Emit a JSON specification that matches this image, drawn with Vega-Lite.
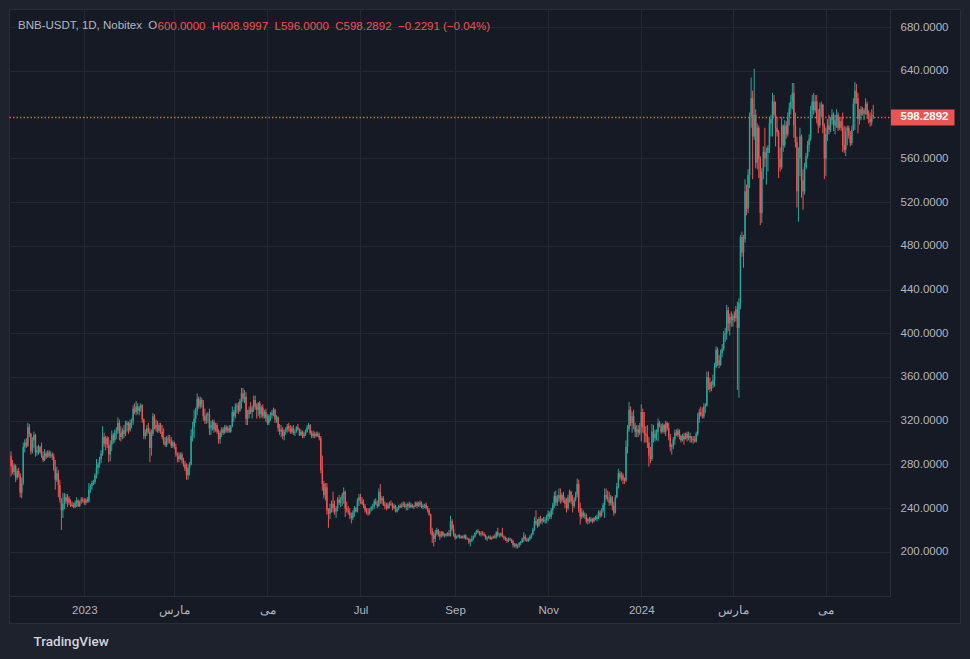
{
"$schema":"https://vega.github.io/schema/vega-lite/v6.json",
"width":951,"height":614,"autosize":"none",
"padding":{"left":9,"top":9,"right":10,"bottom":36},
"background":"#1e222d",
"view":{"fill":"#161a25","stroke":"#2a2e39","strokeWidth":1},
"config":{"font":"Liberation Sans"},
"title":{"text":"BNB-USDT, 1D, Nobitex\u00a0 O","anchor":"start","frame":"group","orient":"top","offset":-28,"baseline":"middle","dx":9,"color":"#b2b5be","fontSize":11.5,"fontWeight":"normal","font":"Liberation Sans"},
"data":{"values":[
{"d":"2022-11-14","o":288,"h":292,"l":269,"c":278},{"d":"2022-11-15","o":278,"h":284,"l":271,"c":273},{"d":"2022-11-16","o":273,"h":281,"l":270,"c":279},{"d":"2022-11-17","o":279,"h":280,"l":264,"c":268},{"d":"2022-11-18","o":268,"h":276,"l":266,"c":274},{"d":"2022-11-19","o":274,"h":277,"l":268,"c":270},{"d":"2022-11-20","o":270,"h":272,"l":250,"c":254},{"d":"2022-11-21","o":254,"h":268,"l":249,"c":263},{"d":"2022-11-22","o":263,"h":300,"l":261,"c":296},{"d":"2022-11-23","o":296,"h":303,"l":291,"c":300},{"d":"2022-11-24","o":300,"h":304,"l":295,"c":297},{"d":"2022-11-25","o":297,"h":318,"l":296,"c":314},{"d":"2022-11-26","o":314,"h":317,"l":305,"c":308},{"d":"2022-11-27","o":308,"h":309,"l":289,"c":292},{"d":"2022-11-28","o":292,"h":305,"l":290,"c":302},{"d":"2022-11-29","o":302,"h":310,"l":295,"c":307},{"d":"2022-11-30","o":307,"h":308,"l":287,"c":291},
{"d":"2022-12-01","o":291,"h":297,"l":288,"c":293},{"d":"2022-12-02","o":293,"h":298,"l":289,"c":296},{"d":"2022-12-03","o":296,"h":297,"l":290,"c":291},{"d":"2022-12-04","o":291,"h":300,"l":286,"c":288},{"d":"2022-12-05","o":288,"h":292,"l":282,"c":284},{"d":"2022-12-06","o":284,"h":294,"l":283,"c":290},{"d":"2022-12-07","o":290,"h":292,"l":285,"c":287},{"d":"2022-12-08","o":287,"h":293,"l":286,"c":291},{"d":"2022-12-09","o":291,"h":293,"l":286,"c":288},{"d":"2022-12-10","o":288,"h":292,"l":286,"c":289},{"d":"2022-12-11","o":289,"h":291,"l":284,"c":287},{"d":"2022-12-12","o":287,"h":290,"l":274,"c":276},{"d":"2022-12-13","o":276,"h":284,"l":257,"c":266},{"d":"2022-12-14","o":266,"h":278,"l":264,"c":272},{"d":"2022-12-15","o":272,"h":275,"l":250,"c":261},{"d":"2022-12-16","o":261,"h":266,"l":245,"c":248},{"d":"2022-12-17","o":248,"h":249,"l":220,"c":238},{"d":"2022-12-18","o":238,"h":254,"l":231,"c":244},{"d":"2022-12-19","o":244,"h":254,"l":239,"c":250},{"d":"2022-12-20","o":250,"h":253,"l":244,"c":246},{"d":"2022-12-21","o":246,"h":253,"l":241,"c":249},{"d":"2022-12-22","o":249,"h":251,"l":243,"c":245},{"d":"2022-12-23","o":245,"h":248,"l":241,"c":243},{"d":"2022-12-24","o":243,"h":246,"l":241,"c":242},{"d":"2022-12-25","o":242,"h":245,"l":240,"c":241},{"d":"2022-12-26","o":241,"h":247,"l":240,"c":245},{"d":"2022-12-27","o":245,"h":250,"l":241,"c":247},{"d":"2022-12-28","o":247,"h":248,"l":241,"c":242},{"d":"2022-12-29","o":242,"h":247,"l":241,"c":246},{"d":"2022-12-30","o":246,"h":250,"l":244,"c":248},{"d":"2022-12-31","o":248,"h":250,"l":245,"c":247},
{"d":"2023-01-01","o":247,"h":249,"l":243,"c":245},{"d":"2023-01-02","o":245,"h":249,"l":243,"c":248},{"d":"2023-01-03","o":248,"h":250,"l":245,"c":246},{"d":"2023-01-04","o":246,"h":263,"l":245,"c":257},{"d":"2023-01-05","o":257,"h":262,"l":254,"c":260},{"d":"2023-01-06","o":260,"h":265,"l":257,"c":263},{"d":"2023-01-07","o":263,"h":266,"l":261,"c":264},{"d":"2023-01-08","o":264,"h":272,"l":262,"c":270},{"d":"2023-01-09","o":270,"h":285,"l":267,"c":277},{"d":"2023-01-10","o":277,"h":282,"l":271,"c":280},{"d":"2023-01-11","o":280,"h":287,"l":277,"c":285},{"d":"2023-01-12","o":285,"h":293,"l":281,"c":290},{"d":"2023-01-13","o":290,"h":315,"l":288,"c":305},{"d":"2023-01-14","o":305,"h":309,"l":296,"c":299},{"d":"2023-01-15","o":299,"h":306,"l":293,"c":304},{"d":"2023-01-16","o":304,"h":306,"l":295,"c":298},{"d":"2023-01-17","o":298,"h":305,"l":282,"c":289},{"d":"2023-01-18","o":289,"h":302,"l":283,"c":298},{"d":"2023-01-19","o":298,"h":311,"l":292,"c":307},{"d":"2023-01-20","o":307,"h":309,"l":299,"c":302},{"d":"2023-01-21","o":302,"h":312,"l":300,"c":309},{"d":"2023-01-22","o":309,"h":314,"l":303,"c":311},{"d":"2023-01-23","o":311,"h":323,"l":308,"c":318},{"d":"2023-01-24","o":318,"h":321,"l":302,"c":309},{"d":"2023-01-25","o":309,"h":315,"l":301,"c":305},{"d":"2023-01-26","o":305,"h":313,"l":303,"c":311},{"d":"2023-01-27","o":311,"h":316,"l":304,"c":308},{"d":"2023-01-28","o":308,"h":320,"l":306,"c":316},{"d":"2023-01-29","o":316,"h":320,"l":310,"c":318},{"d":"2023-01-30","o":318,"h":319,"l":308,"c":311},{"d":"2023-01-31","o":311,"h":321,"l":310,"c":318},
{"d":"2023-02-01","o":318,"h":322,"l":313,"c":320},{"d":"2023-02-02","o":320,"h":334,"l":316,"c":331},{"d":"2023-02-03","o":331,"h":336,"l":326,"c":328},{"d":"2023-02-04","o":328,"h":338,"l":325,"c":333},{"d":"2023-02-05","o":333,"h":336,"l":326,"c":329},{"d":"2023-02-06","o":329,"h":334,"l":325,"c":332},{"d":"2023-02-07","o":332,"h":336,"l":328,"c":334},{"d":"2023-02-08","o":334,"h":335,"l":318,"c":321},{"d":"2023-02-09","o":321,"h":322,"l":303,"c":306},{"d":"2023-02-10","o":306,"h":312,"l":303,"c":309},{"d":"2023-02-11","o":309,"h":316,"l":306,"c":313},{"d":"2023-02-12","o":313,"h":318,"l":308,"c":310},{"d":"2023-02-13","o":310,"h":313,"l":282,"c":295},{"d":"2023-02-14","o":295,"h":312,"l":288,"c":308},{"d":"2023-02-15","o":308,"h":327,"l":306,"c":324},{"d":"2023-02-16","o":324,"h":326,"l":312,"c":316},{"d":"2023-02-17","o":316,"h":321,"l":310,"c":313},{"d":"2023-02-18","o":313,"h":320,"l":309,"c":311},{"d":"2023-02-19","o":311,"h":318,"l":309,"c":316},{"d":"2023-02-20","o":316,"h":318,"l":308,"c":310},{"d":"2023-02-21","o":310,"h":316,"l":303,"c":305},{"d":"2023-02-22","o":305,"h":313,"l":298,"c":301},{"d":"2023-02-23","o":301,"h":305,"l":296,"c":298},{"d":"2023-02-24","o":298,"h":306,"l":296,"c":304},{"d":"2023-02-25","o":304,"h":307,"l":299,"c":303},{"d":"2023-02-26","o":303,"h":307,"l":299,"c":301},{"d":"2023-02-27","o":301,"h":305,"l":295,"c":297},{"d":"2023-02-28","o":297,"h":302,"l":295,"c":300},
{"d":"2023-03-01","o":300,"h":301,"l":294,"c":296},{"d":"2023-03-02","o":296,"h":299,"l":287,"c":290},{"d":"2023-03-03","o":290,"h":291,"l":282,"c":288},{"d":"2023-03-04","o":288,"h":291,"l":282,"c":285},{"d":"2023-03-05","o":285,"h":291,"l":284,"c":289},{"d":"2023-03-06","o":289,"h":291,"l":281,"c":284},{"d":"2023-03-07","o":284,"h":286,"l":278,"c":280},{"d":"2023-03-08","o":280,"h":283,"l":274,"c":276},{"d":"2023-03-09","o":276,"h":281,"l":266,"c":270},{"d":"2023-03-10","o":270,"h":280,"l":266,"c":277},{"d":"2023-03-11","o":277,"h":282,"l":270,"c":280},{"d":"2023-03-12","o":280,"h":312,"l":279,"c":306},{"d":"2023-03-13","o":306,"h":319,"l":301,"c":314},{"d":"2023-03-14","o":314,"h":330,"l":304,"c":322},{"d":"2023-03-15","o":322,"h":332,"l":318,"c":329},{"d":"2023-03-16","o":329,"h":345,"l":325,"c":340},{"d":"2023-03-17","o":340,"h":342,"l":331,"c":333},{"d":"2023-03-18","o":333,"h":342,"l":331,"c":339},{"d":"2023-03-19","o":339,"h":341,"l":332,"c":335},{"d":"2023-03-20","o":335,"h":339,"l":320,"c":324},{"d":"2023-03-21","o":324,"h":331,"l":317,"c":320},{"d":"2023-03-22","o":320,"h":327,"l":317,"c":325},{"d":"2023-03-23","o":325,"h":328,"l":318,"c":326},{"d":"2023-03-24","o":326,"h":331,"l":307,"c":313},{"d":"2023-03-25","o":313,"h":320,"l":307,"c":316},{"d":"2023-03-26","o":316,"h":321,"l":311,"c":319},{"d":"2023-03-27","o":319,"h":321,"l":309,"c":312},{"d":"2023-03-28","o":312,"h":318,"l":310,"c":316},{"d":"2023-03-29","o":316,"h":318,"l":308,"c":310},{"d":"2023-03-30","o":310,"h":312,"l":299,"c":303},{"d":"2023-03-31","o":303,"h":311,"l":299,"c":309},
{"d":"2023-04-01","o":309,"h":314,"l":305,"c":312},{"d":"2023-04-02","o":312,"h":314,"l":307,"c":309},{"d":"2023-04-03","o":309,"h":316,"l":308,"c":314},{"d":"2023-04-04","o":314,"h":316,"l":309,"c":311},{"d":"2023-04-05","o":311,"h":315,"l":309,"c":313},{"d":"2023-04-06","o":313,"h":316,"l":309,"c":310},{"d":"2023-04-07","o":310,"h":316,"l":309,"c":315},{"d":"2023-04-08","o":315,"h":333,"l":314,"c":328},{"d":"2023-04-09","o":328,"h":330,"l":319,"c":324},{"d":"2023-04-10","o":324,"h":336,"l":322,"c":333},{"d":"2023-04-11","o":333,"h":336,"l":327,"c":334},{"d":"2023-04-12","o":334,"h":337,"l":326,"c":329},{"d":"2023-04-13","o":329,"h":340,"l":328,"c":338},{"d":"2023-04-14","o":338,"h":350,"l":331,"c":345},{"d":"2023-04-15","o":345,"h":350,"l":337,"c":340},{"d":"2023-04-16","o":340,"h":348,"l":336,"c":342},{"d":"2023-04-17","o":342,"h":346,"l":316,"c":322},{"d":"2023-04-18","o":322,"h":330,"l":316,"c":326},{"d":"2023-04-19","o":326,"h":333,"l":322,"c":330},{"d":"2023-04-20","o":330,"h":337,"l":326,"c":328},{"d":"2023-04-21","o":328,"h":334,"l":322,"c":332},{"d":"2023-04-22","o":332,"h":343,"l":328,"c":339},{"d":"2023-04-23","o":339,"h":343,"l":330,"c":333},{"d":"2023-04-24","o":333,"h":336,"l":322,"c":330},{"d":"2023-04-25","o":330,"h":337,"l":324,"c":336},{"d":"2023-04-26","o":336,"h":338,"l":322,"c":326},{"d":"2023-04-27","o":326,"h":334,"l":323,"c":332},{"d":"2023-04-28","o":332,"h":335,"l":322,"c":324},{"d":"2023-04-29","o":324,"h":330,"l":322,"c":328},{"d":"2023-04-30","o":328,"h":331,"l":319,"c":322},
{"d":"2023-05-01","o":322,"h":326,"l":316,"c":318},{"d":"2023-05-02","o":318,"h":326,"l":316,"c":324},{"d":"2023-05-03","o":324,"h":328,"l":320,"c":325},{"d":"2023-05-04","o":325,"h":330,"l":322,"c":327},{"d":"2023-05-05","o":327,"h":332,"l":324,"c":330},{"d":"2023-05-06","o":330,"h":331,"l":318,"c":321},{"d":"2023-05-07","o":321,"h":325,"l":318,"c":323},{"d":"2023-05-08","o":323,"h":324,"l":310,"c":313},{"d":"2023-05-09","o":313,"h":317,"l":307,"c":310},{"d":"2023-05-10","o":310,"h":316,"l":305,"c":312},{"d":"2023-05-11","o":312,"h":314,"l":303,"c":306},{"d":"2023-05-12","o":306,"h":312,"l":302,"c":310},{"d":"2023-05-13","o":310,"h":314,"l":307,"c":312},{"d":"2023-05-14","o":312,"h":317,"l":309,"c":315},{"d":"2023-05-15","o":315,"h":318,"l":310,"c":313},{"d":"2023-05-16","o":313,"h":316,"l":308,"c":310},{"d":"2023-05-17","o":310,"h":315,"l":308,"c":313},{"d":"2023-05-18","o":313,"h":316,"l":307,"c":309},{"d":"2023-05-19","o":309,"h":312,"l":306,"c":310},{"d":"2023-05-20","o":310,"h":315,"l":309,"c":314},{"d":"2023-05-21","o":314,"h":317,"l":311,"c":312},{"d":"2023-05-22","o":312,"h":313,"l":306,"c":307},{"d":"2023-05-23","o":307,"h":312,"l":306,"c":310},{"d":"2023-05-24","o":310,"h":311,"l":304,"c":306},{"d":"2023-05-25","o":306,"h":310,"l":304,"c":308},{"d":"2023-05-26","o":308,"h":312,"l":306,"c":310},{"d":"2023-05-27","o":310,"h":316,"l":309,"c":314},{"d":"2023-05-28","o":314,"h":318,"l":312,"c":316},{"d":"2023-05-29","o":316,"h":317,"l":307,"c":309},{"d":"2023-05-30","o":309,"h":311,"l":304,"c":306},{"d":"2023-05-31","o":306,"h":311,"l":304,"c":308},
{"d":"2023-06-01","o":308,"h":310,"l":304,"c":306},{"d":"2023-06-02","o":306,"h":310,"l":305,"c":308},{"d":"2023-06-03","o":308,"h":310,"l":305,"c":306},{"d":"2023-06-04","o":306,"h":309,"l":302,"c":304},{"d":"2023-06-05","o":304,"h":306,"l":272,"c":275},{"d":"2023-06-06","o":275,"h":288,"l":256,"c":262},{"d":"2023-06-07","o":262,"h":265,"l":249,"c":252},{"d":"2023-06-08","o":252,"h":263,"l":247,"c":259},{"d":"2023-06-09","o":259,"h":263,"l":234,"c":238},{"d":"2023-06-10","o":238,"h":240,"l":222,"c":235},{"d":"2023-06-11","o":235,"h":244,"l":230,"c":240},{"d":"2023-06-12","o":240,"h":247,"l":236,"c":244},{"d":"2023-06-13","o":244,"h":255,"l":236,"c":240},{"d":"2023-06-14","o":240,"h":247,"l":234,"c":237},{"d":"2023-06-15","o":237,"h":242,"l":231,"c":240},{"d":"2023-06-16","o":240,"h":250,"l":237,"c":248},{"d":"2023-06-17","o":248,"h":252,"l":243,"c":245},{"d":"2023-06-18","o":245,"h":250,"l":241,"c":248},{"d":"2023-06-19","o":248,"h":254,"l":242,"c":252},{"d":"2023-06-20","o":252,"h":259,"l":244,"c":255},{"d":"2023-06-21","o":255,"h":256,"l":232,"c":240},{"d":"2023-06-22","o":240,"h":246,"l":236,"c":238},{"d":"2023-06-23","o":238,"h":242,"l":234,"c":236},{"d":"2023-06-24","o":236,"h":240,"l":230,"c":233},{"d":"2023-06-25","o":233,"h":236,"l":226,"c":231},{"d":"2023-06-26","o":231,"h":238,"l":229,"c":236},{"d":"2023-06-27","o":236,"h":242,"l":232,"c":240},{"d":"2023-06-28","o":240,"h":241,"l":236,"c":237},{"d":"2023-06-29","o":237,"h":249,"l":236,"c":247},{"d":"2023-06-30","o":247,"h":253,"l":242,"c":250},
{"d":"2023-07-01","o":250,"h":253,"l":244,"c":246},{"d":"2023-07-02","o":246,"h":250,"l":243,"c":244},{"d":"2023-07-03","o":244,"h":248,"l":240,"c":242},{"d":"2023-07-04","o":242,"h":244,"l":236,"c":238},{"d":"2023-07-05","o":238,"h":240,"l":234,"c":236},{"d":"2023-07-06","o":236,"h":240,"l":233,"c":235},{"d":"2023-07-07","o":235,"h":240,"l":234,"c":239},{"d":"2023-07-08","o":239,"h":242,"l":237,"c":241},{"d":"2023-07-09","o":241,"h":244,"l":238,"c":242},{"d":"2023-07-10","o":242,"h":248,"l":239,"c":246},{"d":"2023-07-11","o":246,"h":249,"l":243,"c":244},{"d":"2023-07-12","o":244,"h":247,"l":240,"c":242},{"d":"2023-07-13","o":242,"h":258,"l":241,"c":255},{"d":"2023-07-14","o":255,"h":262,"l":244,"c":247},{"d":"2023-07-15","o":247,"h":251,"l":244,"c":249},{"d":"2023-07-16","o":249,"h":251,"l":242,"c":243},{"d":"2023-07-17","o":243,"h":246,"l":239,"c":242},{"d":"2023-07-18","o":242,"h":245,"l":238,"c":240},{"d":"2023-07-19","o":240,"h":245,"l":239,"c":243},{"d":"2023-07-20","o":243,"h":246,"l":240,"c":244},{"d":"2023-07-21","o":244,"h":247,"l":242,"c":243},{"d":"2023-07-22","o":243,"h":245,"l":238,"c":240},{"d":"2023-07-23","o":240,"h":244,"l":239,"c":242},{"d":"2023-07-24","o":242,"h":243,"l":236,"c":237},{"d":"2023-07-25","o":237,"h":241,"l":236,"c":239},{"d":"2023-07-26","o":239,"h":243,"l":238,"c":242},{"d":"2023-07-27","o":242,"h":244,"l":240,"c":241},{"d":"2023-07-28","o":241,"h":245,"l":240,"c":243},{"d":"2023-07-29","o":243,"h":246,"l":241,"c":244},{"d":"2023-07-30","o":244,"h":246,"l":240,"c":241},{"d":"2023-07-31","o":241,"h":244,"l":238,"c":242},
{"d":"2023-08-01","o":242,"h":245,"l":238,"c":244},{"d":"2023-08-02","o":244,"h":246,"l":240,"c":241},{"d":"2023-08-03","o":241,"h":245,"l":240,"c":243},{"d":"2023-08-04","o":243,"h":244,"l":240,"c":241},{"d":"2023-08-05","o":241,"h":243,"l":239,"c":242},{"d":"2023-08-06","o":242,"h":246,"l":241,"c":245},{"d":"2023-08-07","o":245,"h":246,"l":240,"c":242},{"d":"2023-08-08","o":242,"h":246,"l":241,"c":245},{"d":"2023-08-09","o":245,"h":247,"l":241,"c":243},{"d":"2023-08-10","o":243,"h":246,"l":240,"c":241},{"d":"2023-08-11","o":241,"h":244,"l":239,"c":242},{"d":"2023-08-12","o":242,"h":244,"l":240,"c":243},{"d":"2023-08-13","o":243,"h":245,"l":239,"c":240},{"d":"2023-08-14","o":240,"h":242,"l":236,"c":238},{"d":"2023-08-15","o":238,"h":240,"l":233,"c":234},{"d":"2023-08-16","o":234,"h":235,"l":216,"c":219},{"d":"2023-08-17","o":219,"h":222,"l":208,"c":215},{"d":"2023-08-18","o":215,"h":218,"l":205,"c":212},{"d":"2023-08-19","o":212,"h":220,"l":209,"c":217},{"d":"2023-08-20","o":217,"h":222,"l":215,"c":220},{"d":"2023-08-21","o":220,"h":221,"l":214,"c":216},{"d":"2023-08-22","o":216,"h":219,"l":211,"c":214},{"d":"2023-08-23","o":214,"h":219,"l":213,"c":218},{"d":"2023-08-24","o":218,"h":219,"l":214,"c":215},{"d":"2023-08-25","o":215,"h":217,"l":213,"c":216},{"d":"2023-08-26","o":216,"h":217,"l":214,"c":215},{"d":"2023-08-27","o":215,"h":218,"l":214,"c":217},{"d":"2023-08-28","o":217,"h":220,"l":214,"c":215},{"d":"2023-08-29","o":215,"h":233,"l":214,"c":228},{"d":"2023-08-30","o":228,"h":230,"l":219,"c":221},{"d":"2023-08-31","o":221,"h":225,"l":214,"c":216},
{"d":"2023-09-01","o":216,"h":217,"l":211,"c":213},{"d":"2023-09-02","o":213,"h":215,"l":212,"c":214},{"d":"2023-09-03","o":214,"h":216,"l":213,"c":215},{"d":"2023-09-04","o":215,"h":216,"l":212,"c":213},{"d":"2023-09-05","o":213,"h":215,"l":212,"c":214},{"d":"2023-09-06","o":214,"h":215,"l":212,"c":213},{"d":"2023-09-07","o":213,"h":216,"l":212,"c":215},{"d":"2023-09-08","o":215,"h":216,"l":211,"c":212},{"d":"2023-09-09","o":212,"h":213,"l":211,"c":212},{"d":"2023-09-10","o":212,"h":213,"l":207,"c":209},{"d":"2023-09-11","o":209,"h":212,"l":205,"c":210},{"d":"2023-09-12","o":210,"h":215,"l":209,"c":212},{"d":"2023-09-13","o":212,"h":215,"l":211,"c":214},{"d":"2023-09-14","o":214,"h":218,"l":213,"c":217},{"d":"2023-09-15","o":217,"h":220,"l":216,"c":219},{"d":"2023-09-16","o":219,"h":221,"l":217,"c":218},{"d":"2023-09-17","o":218,"h":219,"l":215,"c":216},{"d":"2023-09-18","o":216,"h":219,"l":214,"c":217},{"d":"2023-09-19","o":217,"h":219,"l":215,"c":216},{"d":"2023-09-20","o":216,"h":218,"l":214,"c":215},{"d":"2023-09-21","o":215,"h":216,"l":211,"c":212},{"d":"2023-09-22","o":212,"h":214,"l":210,"c":213},{"d":"2023-09-23","o":213,"h":215,"l":212,"c":214},{"d":"2023-09-24","o":214,"h":215,"l":211,"c":212},{"d":"2023-09-25","o":212,"h":214,"l":211,"c":213},{"d":"2023-09-26","o":213,"h":215,"l":212,"c":214},{"d":"2023-09-27","o":214,"h":216,"l":212,"c":213},{"d":"2023-09-28","o":213,"h":219,"l":212,"c":218},{"d":"2023-09-29","o":218,"h":222,"l":214,"c":215},{"d":"2023-09-30","o":215,"h":217,"l":213,"c":215},
{"d":"2023-10-01","o":215,"h":218,"l":214,"c":217},{"d":"2023-10-02","o":217,"h":222,"l":213,"c":214},{"d":"2023-10-03","o":214,"h":215,"l":211,"c":213},{"d":"2023-10-04","o":213,"h":214,"l":210,"c":211},{"d":"2023-10-05","o":211,"h":213,"l":208,"c":210},{"d":"2023-10-06","o":210,"h":213,"l":209,"c":212},{"d":"2023-10-07","o":212,"h":213,"l":210,"c":211},{"d":"2023-10-08","o":211,"h":212,"l":208,"c":210},{"d":"2023-10-09","o":210,"h":211,"l":204,"c":206},{"d":"2023-10-10","o":206,"h":208,"l":204,"c":207},{"d":"2023-10-11","o":207,"h":208,"l":203,"c":205},{"d":"2023-10-12","o":205,"h":207,"l":203,"c":206},{"d":"2023-10-13","o":206,"h":209,"l":204,"c":208},{"d":"2023-10-14","o":208,"h":210,"l":206,"c":209},{"d":"2023-10-15","o":209,"h":213,"l":208,"c":212},{"d":"2023-10-16","o":212,"h":218,"l":209,"c":214},{"d":"2023-10-17","o":214,"h":216,"l":210,"c":211},{"d":"2023-10-18","o":211,"h":213,"l":209,"c":210},{"d":"2023-10-19","o":210,"h":213,"l":209,"c":212},{"d":"2023-10-20","o":212,"h":215,"l":210,"c":214},{"d":"2023-10-21","o":214,"h":217,"l":212,"c":216},{"d":"2023-10-22","o":216,"h":222,"l":215,"c":220},{"d":"2023-10-23","o":220,"h":232,"l":219,"c":228},{"d":"2023-10-24","o":228,"h":238,"l":224,"c":226},{"d":"2023-10-25","o":226,"h":230,"l":222,"c":224},{"d":"2023-10-26","o":224,"h":232,"l":223,"c":230},{"d":"2023-10-27","o":230,"h":233,"l":226,"c":228},{"d":"2023-10-28","o":228,"h":231,"l":225,"c":230},{"d":"2023-10-29","o":230,"h":232,"l":227,"c":228},{"d":"2023-10-30","o":228,"h":232,"l":226,"c":229},{"d":"2023-10-31","o":229,"h":234,"l":226,"c":232},
{"d":"2023-11-01","o":232,"h":238,"l":228,"c":235},{"d":"2023-11-02","o":235,"h":237,"l":230,"c":232},{"d":"2023-11-03","o":232,"h":240,"l":230,"c":238},{"d":"2023-11-04","o":238,"h":245,"l":234,"c":243},{"d":"2023-11-05","o":243,"h":255,"l":240,"c":251},{"d":"2023-11-06","o":251,"h":256,"l":242,"c":245},{"d":"2023-11-07","o":245,"h":252,"l":242,"c":249},{"d":"2023-11-08","o":249,"h":258,"l":246,"c":252},{"d":"2023-11-09","o":252,"h":258,"l":244,"c":247},{"d":"2023-11-10","o":247,"h":254,"l":245,"c":252},{"d":"2023-11-11","o":252,"h":255,"l":245,"c":248},{"d":"2023-11-12","o":248,"h":250,"l":240,"c":244},{"d":"2023-11-13","o":244,"h":249,"l":236,"c":240},{"d":"2023-11-14","o":240,"h":252,"l":238,"c":250},{"d":"2023-11-15","o":250,"h":257,"l":245,"c":255},{"d":"2023-11-16","o":255,"h":256,"l":244,"c":246},{"d":"2023-11-17","o":246,"h":252,"l":236,"c":242},{"d":"2023-11-18","o":242,"h":250,"l":240,"c":248},{"d":"2023-11-19","o":248,"h":255,"l":246,"c":253},{"d":"2023-11-20","o":253,"h":267,"l":250,"c":262},{"d":"2023-11-21","o":262,"h":266,"l":236,"c":240},{"d":"2023-11-22","o":240,"h":245,"l":225,"c":232},{"d":"2023-11-23","o":232,"h":240,"l":230,"c":236},{"d":"2023-11-24","o":236,"h":238,"l":231,"c":233},{"d":"2023-11-25","o":233,"h":236,"l":230,"c":234},{"d":"2023-11-26","o":234,"h":235,"l":226,"c":228},{"d":"2023-11-27","o":228,"h":231,"l":225,"c":230},{"d":"2023-11-28","o":230,"h":232,"l":226,"c":228},{"d":"2023-11-29","o":228,"h":232,"l":227,"c":230},{"d":"2023-11-30","o":230,"h":231,"l":226,"c":228},
{"d":"2023-12-01","o":228,"h":232,"l":227,"c":231},{"d":"2023-12-02","o":231,"h":233,"l":229,"c":230},{"d":"2023-12-03","o":230,"h":234,"l":228,"c":232},{"d":"2023-12-04","o":232,"h":238,"l":230,"c":236},{"d":"2023-12-05","o":236,"h":238,"l":231,"c":233},{"d":"2023-12-06","o":233,"h":240,"l":232,"c":238},{"d":"2023-12-07","o":238,"h":245,"l":236,"c":243},{"d":"2023-12-08","o":243,"h":258,"l":231,"c":252},{"d":"2023-12-09","o":252,"h":258,"l":248,"c":250},{"d":"2023-12-10","o":250,"h":256,"l":246,"c":248},{"d":"2023-12-11","o":248,"h":255,"l":242,"c":245},{"d":"2023-12-12","o":245,"h":252,"l":243,"c":250},{"d":"2023-12-13","o":250,"h":251,"l":238,"c":242},{"d":"2023-12-14","o":242,"h":246,"l":233,"c":236},{"d":"2023-12-15","o":236,"h":252,"l":235,"c":250},{"d":"2023-12-16","o":250,"h":263,"l":249,"c":260},{"d":"2023-12-17","o":260,"h":276,"l":258,"c":272},{"d":"2023-12-18","o":272,"h":274,"l":266,"c":268},{"d":"2023-12-19","o":268,"h":273,"l":265,"c":270},{"d":"2023-12-20","o":270,"h":272,"l":262,"c":266},{"d":"2023-12-21","o":266,"h":268,"l":262,"c":265},{"d":"2023-12-22","o":265,"h":302,"l":264,"c":296},{"d":"2023-12-23","o":296,"h":316,"l":290,"c":312},{"d":"2023-12-24","o":312,"h":337,"l":310,"c":330},{"d":"2023-12-25","o":330,"h":333,"l":315,"c":318},{"d":"2023-12-26","o":318,"h":328,"l":309,"c":324},{"d":"2023-12-27","o":324,"h":330,"l":312,"c":315},{"d":"2023-12-28","o":315,"h":318,"l":305,"c":310},{"d":"2023-12-29","o":310,"h":316,"l":305,"c":312},{"d":"2023-12-30","o":312,"h":316,"l":305,"c":309},{"d":"2023-12-31","o":309,"h":318,"l":307,"c":314},
{"d":"2024-01-01","o":314,"h":335,"l":301,"c":328},{"d":"2024-01-02","o":328,"h":331,"l":309,"c":314},{"d":"2024-01-03","o":314,"h":328,"l":300,"c":308},{"d":"2024-01-04","o":308,"h":315,"l":300,"c":306},{"d":"2024-01-05","o":306,"h":316,"l":295,"c":300},{"d":"2024-01-06","o":300,"h":305,"l":278,"c":288},{"d":"2024-01-07","o":288,"h":296,"l":281,"c":285},{"d":"2024-01-08","o":285,"h":317,"l":283,"c":310},{"d":"2024-01-09","o":310,"h":316,"l":300,"c":304},{"d":"2024-01-10","o":304,"h":312,"l":301,"c":308},{"d":"2024-01-11","o":308,"h":312,"l":302,"c":310},{"d":"2024-01-12","o":310,"h":322,"l":301,"c":318},{"d":"2024-01-13","o":318,"h":320,"l":314,"c":315},{"d":"2024-01-14","o":315,"h":317,"l":308,"c":310},{"d":"2024-01-15","o":310,"h":318,"l":309,"c":316},{"d":"2024-01-16","o":316,"h":317,"l":308,"c":310},{"d":"2024-01-17","o":310,"h":320,"l":306,"c":318},{"d":"2024-01-18","o":318,"h":319,"l":311,"c":313},{"d":"2024-01-19","o":313,"h":318,"l":302,"c":305},{"d":"2024-01-20","o":305,"h":308,"l":292,"c":296},{"d":"2024-01-21","o":296,"h":299,"l":289,"c":297},{"d":"2024-01-22","o":297,"h":305,"l":294,"c":303},{"d":"2024-01-23","o":303,"h":312,"l":298,"c":309},{"d":"2024-01-24","o":309,"h":312,"l":306,"c":307},{"d":"2024-01-25","o":307,"h":313,"l":305,"c":311},{"d":"2024-01-26","o":311,"h":312,"l":303,"c":306},{"d":"2024-01-27","o":306,"h":307,"l":300,"c":302},{"d":"2024-01-28","o":302,"h":308,"l":301,"c":306},{"d":"2024-01-29","o":306,"h":309,"l":298,"c":303},{"d":"2024-01-30","o":303,"h":309,"l":303,"c":308},{"d":"2024-01-31","o":308,"h":310,"l":301,"c":304},
{"d":"2024-02-01","o":304,"h":310,"l":302,"c":306},{"d":"2024-02-02","o":306,"h":309,"l":300,"c":304},{"d":"2024-02-03","o":304,"h":306,"l":300,"c":302},{"d":"2024-02-04","o":302,"h":306,"l":299,"c":303},{"d":"2024-02-05","o":303,"h":306,"l":300,"c":301},{"d":"2024-02-06","o":301,"h":310,"l":300,"c":308},{"d":"2024-02-07","o":308,"h":327,"l":306,"c":322},{"d":"2024-02-08","o":322,"h":331,"l":318,"c":328},{"d":"2024-02-09","o":328,"h":333,"l":324,"c":325},{"d":"2024-02-10","o":325,"h":332,"l":322,"c":324},{"d":"2024-02-11","o":324,"h":336,"l":322,"c":333},{"d":"2024-02-12","o":333,"h":336,"l":327,"c":334},{"d":"2024-02-13","o":334,"h":365,"l":333,"c":360},{"d":"2024-02-14","o":360,"h":365,"l":348,"c":355},{"d":"2024-02-15","o":355,"h":359,"l":346,"c":349},{"d":"2024-02-16","o":349,"h":356,"l":347,"c":353},{"d":"2024-02-17","o":353,"h":362,"l":350,"c":357},{"d":"2024-02-18","o":357,"h":373,"l":351,"c":369},{"d":"2024-02-19","o":369,"h":388,"l":368,"c":385},{"d":"2024-02-20","o":385,"h":387,"l":370,"c":375},{"d":"2024-02-21","o":375,"h":380,"l":368,"c":371},{"d":"2024-02-22","o":371,"h":385,"l":370,"c":382},{"d":"2024-02-23","o":382,"h":390,"l":378,"c":386},{"d":"2024-02-24","o":386,"h":402,"l":384,"c":398},{"d":"2024-02-25","o":398,"h":405,"l":392,"c":400},{"d":"2024-02-26","o":400,"h":426,"l":394,"c":421},{"d":"2024-02-27","o":421,"h":424,"l":402,"c":409},{"d":"2024-02-28","o":409,"h":418,"l":398,"c":415},{"d":"2024-02-29","o":415,"h":420,"l":406,"c":412},
{"d":"2024-03-01","o":412,"h":418,"l":406,"c":416},{"d":"2024-03-02","o":416,"h":420,"l":410,"c":414},{"d":"2024-03-03","o":414,"h":425,"l":411,"c":422},{"d":"2024-03-04","o":422,"h":429,"l":348,"c":405},{"d":"2024-03-05","o":405,"h":432,"l":341,"c":428},{"d":"2024-03-06","o":428,"h":490,"l":422,"c":488},{"d":"2024-03-07","o":488,"h":493,"l":470,"c":474},{"d":"2024-03-08","o":474,"h":490,"l":460,"c":486},{"d":"2024-03-09","o":486,"h":541,"l":483,"c":530},{"d":"2024-03-10","o":530,"h":536,"l":508,"c":514},{"d":"2024-03-11","o":514,"h":550,"l":510,"c":545},{"d":"2024-03-12","o":545,"h":602,"l":533,"c":598},{"d":"2024-03-13","o":598,"h":634,"l":588,"c":615},{"d":"2024-03-14","o":615,"h":622,"l":541,"c":580},{"d":"2024-03-15","o":580,"h":642,"l":577,"c":600},{"d":"2024-03-16","o":600,"h":605,"l":551,"c":556},{"d":"2024-03-17","o":556,"h":592,"l":550,"c":588},{"d":"2024-03-18","o":588,"h":590,"l":542,"c":560},{"d":"2024-03-19","o":560,"h":562,"l":499,"c":510},{"d":"2024-03-20","o":510,"h":551,"l":501,"c":548},{"d":"2024-03-21","o":548,"h":571,"l":541,"c":566},{"d":"2024-03-22","o":566,"h":588,"l":552,"c":560},{"d":"2024-03-23","o":560,"h":570,"l":536,"c":565},{"d":"2024-03-24","o":565,"h":572,"l":548,"c":570},{"d":"2024-03-25","o":570,"h":598,"l":565,"c":592},{"d":"2024-03-26","o":592,"h":600,"l":580,"c":596},{"d":"2024-03-27","o":596,"h":620,"l":580,"c":612},{"d":"2024-03-28","o":612,"h":618,"l":598,"c":600},{"d":"2024-03-29","o":600,"h":612,"l":571,"c":588},{"d":"2024-03-30","o":588,"h":598,"l":580,"c":584},{"d":"2024-03-31","o":584,"h":586,"l":542,"c":560},
{"d":"2024-04-01","o":560,"h":570,"l":548,"c":552},{"d":"2024-04-02","o":552,"h":598,"l":550,"c":590},{"d":"2024-04-03","o":590,"h":591,"l":566,"c":572},{"d":"2024-04-04","o":572,"h":595,"l":570,"c":590},{"d":"2024-04-05","o":590,"h":594,"l":578,"c":582},{"d":"2024-04-06","o":582,"h":602,"l":580,"c":598},{"d":"2024-04-07","o":598,"h":611,"l":590,"c":606},{"d":"2024-04-08","o":606,"h":618,"l":600,"c":612},{"d":"2024-04-09","o":612,"h":629,"l":605,"c":620},{"d":"2024-04-10","o":620,"h":629,"l":579,"c":590},{"d":"2024-04-11","o":590,"h":602,"l":570,"c":575},{"d":"2024-04-12","o":575,"h":580,"l":515,"c":530},{"d":"2024-04-13","o":530,"h":570,"l":502,"c":560},{"d":"2024-04-14","o":560,"h":588,"l":544,"c":580},{"d":"2024-04-15","o":580,"h":582,"l":524,"c":540},{"d":"2024-04-16","o":540,"h":550,"l":513,"c":530},{"d":"2024-04-17","o":530,"h":556,"l":527,"c":552},{"d":"2024-04-18","o":552,"h":565,"l":550,"c":562},{"d":"2024-04-19","o":562,"h":576,"l":560,"c":572},{"d":"2024-04-20","o":572,"h":582,"l":566,"c":578},{"d":"2024-04-21","o":578,"h":608,"l":576,"c":604},{"d":"2024-04-22","o":604,"h":618,"l":597,"c":612},{"d":"2024-04-23","o":612,"h":620,"l":600,"c":604},{"d":"2024-04-24","o":604,"h":618,"l":602,"c":612},{"d":"2024-04-25","o":612,"h":618,"l":592,"c":596},{"d":"2024-04-26","o":596,"h":605,"l":583,"c":590},{"d":"2024-04-27","o":590,"h":611,"l":588,"c":606},{"d":"2024-04-28","o":606,"h":612,"l":598,"c":609},{"d":"2024-04-29","o":609,"h":610,"l":583,"c":590},{"d":"2024-04-30","o":590,"h":592,"l":541,"c":560},
{"d":"2024-05-01","o":560,"h":588,"l":544,"c":582},{"d":"2024-05-02","o":582,"h":596,"l":576,"c":590},{"d":"2024-05-03","o":590,"h":600,"l":582,"c":586},{"d":"2024-05-04","o":586,"h":598,"l":584,"c":595},{"d":"2024-05-05","o":595,"h":605,"l":591,"c":600},{"d":"2024-05-06","o":600,"h":602,"l":585,"c":590},{"d":"2024-05-07","o":590,"h":600,"l":582,"c":595},{"d":"2024-05-08","o":595,"h":605,"l":588,"c":600},{"d":"2024-05-09","o":600,"h":602,"l":585,"c":588},{"d":"2024-05-10","o":588,"h":598,"l":586,"c":594},{"d":"2024-05-11","o":594,"h":598,"l":585,"c":588},{"d":"2024-05-12","o":588,"h":602,"l":566,"c":572},{"d":"2024-05-13","o":572,"h":590,"l":565,"c":568},{"d":"2024-05-14","o":568,"h":589,"l":562,"c":585},{"d":"2024-05-15","o":585,"h":590,"l":572,"c":588},{"d":"2024-05-16","o":588,"h":590,"l":578,"c":581},{"d":"2024-05-17","o":581,"h":585,"l":571,"c":574},{"d":"2024-05-18","o":574,"h":590,"l":572,"c":586},{"d":"2024-05-19","o":586,"h":615,"l":585,"c":610},{"d":"2024-05-20","o":610,"h":630,"l":586,"c":622},{"d":"2024-05-21","o":622,"h":628,"l":610,"c":615},{"d":"2024-05-22","o":615,"h":620,"l":583,"c":596},{"d":"2024-05-23","o":596,"h":605,"l":591,"c":600},{"d":"2024-05-24","o":600,"h":608,"l":595,"c":605},{"d":"2024-05-25","o":605,"h":607,"l":599,"c":601},{"d":"2024-05-26","o":601,"h":606,"l":595,"c":604},{"d":"2024-05-27","o":604,"h":615,"l":600,"c":610},{"d":"2024-05-28","o":610,"h":612,"l":596,"c":600},{"d":"2024-05-29","o":600,"h":604,"l":592,"c":596},{"d":"2024-05-30","o":596,"h":602,"l":589,"c":593},{"d":"2024-05-31","o":593,"h":605,"l":590,"c":598.5183},
{"d":"2024-06-01","o":600,"h":608.9997,"l":596,"c":598.2892}
]},
"resolve":{"axis":{"x":"independent","y":"independent"}},
"layer":[
{"mark":{"type":"rule","strokeWidth":1},
"encoding":{
"x":{"field":"d","type":"temporal",
"scale":{"type":"utc","domain":[{"year":2022,"month":11,"date":12,"hours":16,"utc":true},{"year":2024,"month":6,"date":12,"utc":true}],"range":[0,881],"padding":0},
"axis":{"orient":"top","values":[{"year":2023,"month":1,"date":1,"utc":true},{"year":2023,"month":3,"date":1,"utc":true},{"year":2023,"month":5,"date":1,"utc":true},{"year":2023,"month":7,"date":1,"utc":true},{"year":2023,"month":9,"date":1,"utc":true},{"year":2023,"month":11,"date":1,"utc":true},{"year":2024,"month":1,"date":1,"utc":true},{"year":2024,"month":3,"date":1,"utc":true},{"year":2024,"month":5,"date":1,"utc":true}],
"grid":true,"gridColor":"#242832","gridWidth":1,"domain":false,"ticks":false,"labels":false,"title":null}},
"y":{"field":"l","type":"quantitative","scale":{"domain":[159.6,696.7],"range":[587,0],"nice":false,"zero":false},
"axis":{"orient":"left","values":[200,240,280,320,360,400,440,480,520,560,598.2892,640,680],
"grid":true,"gridColor":{"condition":{"test":"datum.value>598 && datum.value<599","value":"#f44d4d"},"value":"#242832"},
"gridDash":{"condition":{"test":"datum.value>598 && datum.value<599","value":[1.5,2]},"value":[]},
"gridWidth":{"condition":{"test":"datum.value>598 && datum.value<599","value":1.4},"value":1},
"domain":false,"ticks":false,"labels":false,"title":null}},
"y2":{"field":"h"},
"color":{"condition":{"test":"datum.c>=datum.o","value":"#26a69a"},"value":"#ef5350"}}},
{"mark":{"type":"bar","size":1.5},
"encoding":{
"x":{"field":"d","type":"temporal",
"scale":{"type":"utc","domain":[{"year":2022,"month":11,"date":12,"hours":16,"utc":true},{"year":2024,"month":6,"date":12,"utc":true}],"range":[0,881],"padding":0},
"axis":{"orient":"bottom","offset":-27,
"values":[{"year":2023,"month":1,"date":1,"utc":true},{"year":2023,"month":3,"date":1,"utc":true},{"year":2023,"month":5,"date":1,"utc":true},{"year":2023,"month":7,"date":1,"utc":true},{"year":2023,"month":9,"date":1,"utc":true},{"year":2023,"month":11,"date":1,"utc":true},{"year":2024,"month":1,"date":1,"utc":true},{"year":2024,"month":3,"date":1,"utc":true},{"year":2024,"month":5,"date":1,"utc":true}],
"labelExpr":"utcmonth(datum.value)==0 ? utcFormat(datum.value,'%Y') : utcmonth(datum.value)==2 ? 'مارس' : utcmonth(datum.value)==4 ? 'می' : utcFormat(datum.value,'%b')",
"grid":false,"domain":true,"domainColor":"#2a2e39","ticks":false,
"labelColor":"#b2b5be","labelFontSize":11.5,"labelPadding":8,"labelOverlap":false,"labelFlush":false,
"title":"TradingView","titleX":24,"titleY":45,"titleAlign":"left","titleBaseline":"middle","titleColor":"#d1d4dc","titleFontSize":13.5,"titleFont":"Roboto","titleFontWeight":500}},
"y":{"field":"o","type":"quantitative","scale":{"domain":[159.6,696.7],"range":[587,0],"nice":false,"zero":false},
"axis":{"orient":"right","offset":-70,"values":[200,240,280,320,360,400,440,480,520,560,598.2892,640,680],"format":".4f",
"grid":false,
"ticks":true,"tickSize":{"condition":{"test":"datum.value>598 && datum.value<599","value":64},"value":0},
"tickWidth":{"condition":{"test":"datum.value>598 && datum.value<599","value":16},"value":0},
"tickColor":{"condition":{"test":"datum.value>598 && datum.value<599","value":"#ef5350"},"value":"transparent"},
"labelColor":{"condition":{"test":"datum.value>598 && datum.value<599","value":"#ffffff"},"value":"#b2b5be"},
"labelFontWeight":{"condition":{"test":"datum.value>598 && datum.value<599","value":"bold"},"value":"normal"},
"labelPadding":{"condition":{"test":"datum.value>598 && datum.value<599","value":-54},"value":10},
"labelFontSize":11.5,"labelOverlap":false,"labelFlush":false,"labelBaseline":"middle",
"domain":true,"domainColor":"#2a2e39",
"title":"600.0000\u00a0 H608.9997\u00a0 L596.0000\u00a0 C598.2892\u00a0 −0.2291 (−0.04%)","titleX":-733,"titleY":17,"titleAngle":0,"titleAlign":"left","titleBaseline":"middle","titleColor":"#ef5350","titleFontSize":11.5,"titleFontWeight":"normal"}},
"y2":{"field":"c"},
"color":{"condition":{"test":"datum.c>=datum.o","value":"#26a69a"},"value":"#ef5350"}}}
]
}
